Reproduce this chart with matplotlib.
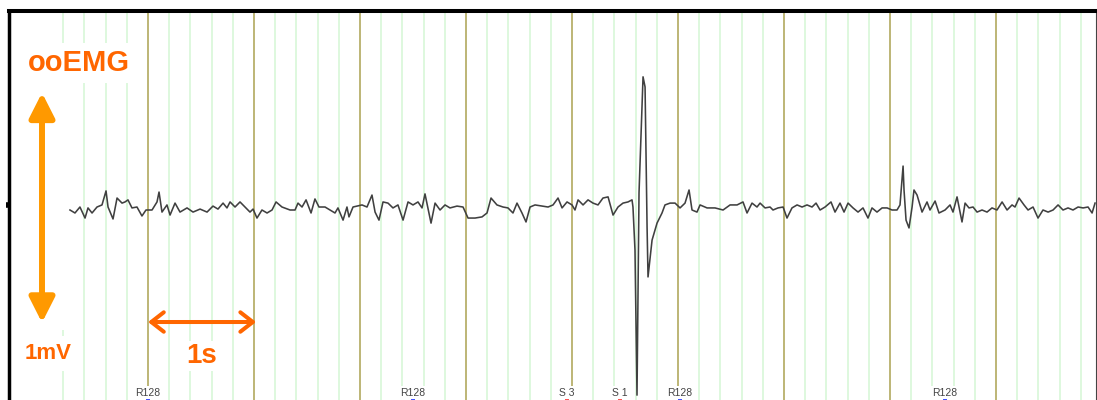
import numpy as np
import matplotlib
matplotlib.use("Agg")
import matplotlib.pyplot as plt
from matplotlib.patches import Rectangle

plt.rcParams["font.family"] = ["Liberation Sans", "DejaVu Sans"]

# EMG trace: time (s) and amplitude (uV)
time_s = [
    0.264, 0.311, 0.358, 0.406, 0.434, 0.472, 0.519, 0.566, 0.604, 0.623,
    0.670, 0.708, 0.755, 0.783, 0.811, 0.849, 0.896, 0.943, 0.981, 1.038,
    1.085, 1.104, 1.132, 1.179, 1.208, 1.255, 1.302, 1.368, 1.425, 1.491,
    1.557, 1.613, 1.660, 1.708, 1.745, 1.774, 1.821, 1.868, 1.915, 1.962,
    1.991, 2.028, 2.075, 2.123, 2.170, 2.208, 2.264, 2.340, 2.387, 2.415,
    2.453, 2.491, 2.538, 2.575, 2.613, 2.670, 2.717, 2.764, 2.792, 2.840,
    2.877, 2.896, 2.934, 3.019, 3.066, 3.113, 3.142, 3.179, 3.217, 3.264,
    3.311, 3.358, 3.406, 3.453, 3.500, 3.547, 3.585, 3.613, 3.670, 3.708,
    3.755, 3.802, 3.849, 3.915, 3.972, 4.019, 4.085, 4.151, 4.198, 4.236,
    4.292, 4.349, 4.396, 4.443, 4.481, 4.528, 4.566, 4.604, 4.651, 4.717,
    4.774, 4.821, 4.868, 4.906, 4.953, 5.000, 5.028, 5.057, 5.104, 5.151,
    5.198, 5.245, 5.292, 5.340, 5.387, 5.434, 5.481, 5.528, 5.566, 5.575,
    5.594, 5.613, 5.632, 5.670, 5.689, 5.708, 5.717, 5.755, 5.802, 5.849,
    5.877, 5.925, 5.972, 6.019, 6.066, 6.104, 6.132, 6.179, 6.208, 6.274,
    6.349, 6.425, 6.491, 6.557, 6.613, 6.651, 6.698, 6.745, 6.774, 6.821,
    6.868, 6.896, 6.943, 6.991, 7.028, 7.075, 7.123, 7.170, 7.217, 7.264,
    7.302, 7.340, 7.387, 7.443, 7.481, 7.528, 7.566, 7.604, 7.651, 7.698,
    7.745, 7.792, 7.830, 7.877, 7.925, 7.972, 8.019, 8.066, 8.094, 8.123,
    8.132, 8.151, 8.179, 8.208, 8.226, 8.255, 8.302, 8.349, 8.377, 8.425,
    8.462, 8.519, 8.566, 8.594, 8.632, 8.679, 8.708, 8.745, 8.783, 8.821,
    8.868, 8.915, 8.962, 9.009, 9.057, 9.104, 9.151, 9.179, 9.217, 9.264,
    9.302, 9.349, 9.396, 9.443, 9.491, 9.538, 9.585, 9.632, 9.679, 9.726,
    9.774, 9.821, 9.868, 9.906, 9.934,
]
emg_uv = [
    0, -13, 13, -35, 9, -13, 13, 22, 83, 13,
    -39, 52, 30, 35, 44, 9, 13, -26, 0, 0,
    35, 78, -9, 22, -22, 30, -9, 9, -9, 4,
    -9, 17, 4, 30, 9, 35, 13, 35, 13, -9,
    4, -35, 0, -13, 0, 35, 13, 0, 0, 30,
    13, 44, -13, 48, 13, 13, 0, -13, 9, -44,
    13, -30, 13, 22, 13, 65, -9, -44, 35, 30,
    9, 22, -44, 35, 22, 35, 9, 70, -57, 30,
    0, 22, 9, 17, 13, -35, -35, -30, -13, 52,
    22, 13, 9, -13, 30, -13, -52, 13, 22, 17,
    13, 22, 52, 9, 35, 22, 0, 44, 22, 44,
    30, 22, 52, 57, -22, 13, 30, 35, 44, 13,
    -174, -805, 74, 579, 535, -74, -291, -131, -57, -13,
    22, 30, 30, 9, 30, 87, 0, -9, 22, 9,
    9, 0, 22, 22, 35, -13, 30, 13, 30, 9,
    13, 0, 9, 13, -35, 9, 22, 13, 22, 13,
    30, 0, 13, 35, -9, 30, -9, 30, 9, -9,
    9, -35, 9, -9, 9, 9, 0, 0, 22, 191,
    87, -44, -78, 13, 87, 65, -9, 35, 0, 39,
    -13, 0, 22, -9, 57, -52, 30, 9, 13, -9,
    0, -9, 9, 0, 35, 0, 22, 13, 52, 22,
    0, 13, -35, 0, -9, 0, 22, 0, 9, 0,
    13, 9, 13, -13, 30,
]

# event markers at the bottom
event_t = [1.0, 3.5, 4.953, 5.453, 6.02, 8.52]
event_labels = ["R128", "R128", "S 3", "S 1", "R128", "R128"]
event_colors = ["#2030ff", "#2030ff", "#ff3030", "#ff3030", "#2030ff", "#2030ff"]

fig = plt.figure(figsize=(10.97, 4.0), dpi=100)
ax = fig.add_axes([8.5 / 1097, -0.1, (1096 - 8.5) / 1097, 1 - 10.5 / 400 + 0.1])
ax.set_xlim(-0.316, 9.943)
ax.set_ylim(-1.0, 0.8674)

# time grid: light green every 0.2 s, olive every second
minor = [t for t in np.arange(0.2, 9.9, 0.2) if abs(t - round(t)) > 0.01]
ax.vlines(minor, 0, 1, transform=ax.get_xaxis_transform(), colors="#d4f7d4", lw=1.1, zorder=0.5)
ax.vlines(np.arange(1, 10), 0, 1, transform=ax.get_xaxis_transform(), colors="#bdb576", lw=1.4, zorder=0.6)

# white panel behind the scale arrow
ax.add_patch(Rectangle((-0.255, -0.522), 0.519, 1.074, fc="white", ec="none", zorder=1))

ax.plot(time_s, np.array(emg_uv) / 1000.0, color="#404040", lw=1.15, zorder=2)

# event labels
for t, lab, c in zip(event_t, event_labels, event_colors):
    ax.text(t, -0.809, lab, ha="center", va="baseline", fontsize=7.5, color="#444444",
            bbox=dict(fc="white", ec="none", pad=1.5), zorder=4)
ax.scatter(event_t, [-0.826] * len(event_t), marker="_", s=10, c=event_colors, lw=1.2, zorder=4)

# scale bars
ax.annotate("", xy=(0.0, 0.51), xytext=(0.0, -0.49),
            arrowprops=dict(arrowstyle="<|-|>,head_length=0.75,head_width=0.38", mutation_scale=20,
                            lw=4.3, color="#ff9900", shrinkA=0, shrinkB=0), zorder=3)
ax.annotate("", xy=(1.0, -0.487), xytext=(2.02, -0.487),
            arrowprops=dict(arrowstyle="<->,head_length=0.45,head_width=0.35", mutation_scale=20,
                            lw=2.9, color="#ff6600", shrinkA=0, shrinkB=0), zorder=3)

ax.text(0.344, 0.604, "ooEMG", ha="center", va="baseline", fontsize=21, fontweight="bold",
        color="#ff6600", bbox=dict(fc="white", ec="none", pad=4.5), zorder=4)
ax.text(0.057, -0.648, "1mV", ha="center", va="baseline", fontsize=16, fontweight="bold",
        color="#ff6600", bbox=dict(fc="white", ec="none", pad=5), zorder=4)
ax.text(1.509, -0.665, "1s", ha="center", va="baseline", fontsize=20, fontweight="bold",
        color="#ff6600", bbox=dict(fc="white", ec="none", pad=1.5), zorder=4)

# frame
ax.spines["bottom"].set_visible(False)
ax.spines["left"].set_linewidth(2.5)
ax.spines["top"].set_linewidth(2.9)
ax.spines["right"].set_linewidth(0.8)
ax.spines["right"].set_color("#444444")
ax.set_xticks([])
ax.set_yticks([0.02])
ax.set_yticklabels([])
ax.tick_params(axis="y", length=2, width=4, color="black")

fig.savefig("out.png", dpi=100)
